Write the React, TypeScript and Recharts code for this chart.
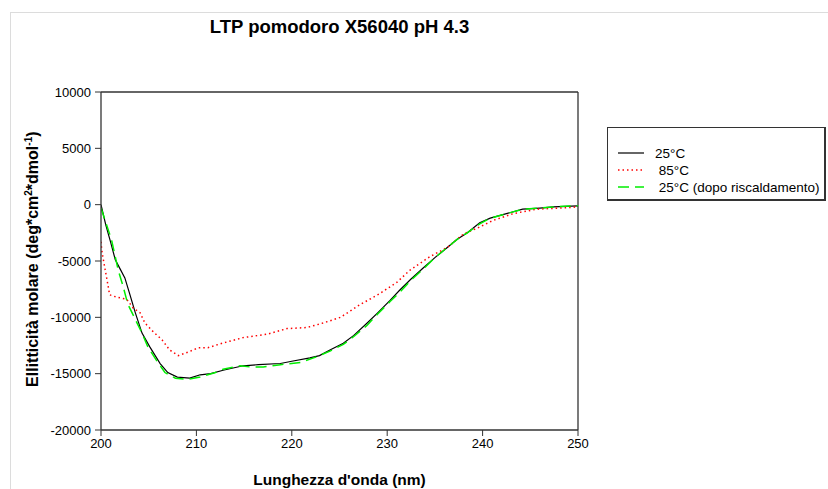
import React from 'react';
import { LineChart, Line, XAxis, YAxis, ReferenceLine } from 'recharts';

const xTicks = [200, 210, 220, 230, 240, 250];
const yTicks = [-20000, -15000, -10000, -5000, 0, 5000, 10000];

const nm25 = [200, 200.5, 201, 201.5, 202, 202.5, 203, 203.6, 204.3, 205.1, 206.2, 207, 208, 209.3, 210.4, 211.5, 212.8, 214.9, 216.5, 218.8, 220, 221.9, 222.9, 224, 225.4, 226.5, 227.9, 229, 230.3, 231.3, 232.5, 233.8, 235, 236.3, 237.3, 238.4, 239.7, 240.8, 242.5, 244.2, 246, 247.4, 250];
const val25 = [0, -1800, -3300, -4900, -5700, -6500, -7900, -9600, -11400, -12600, -14100, -14900, -15300, -15400, -15100, -15000, -14700, -14300, -14200, -14100, -13900, -13600, -13400, -12900, -12300, -11600, -10500, -9600, -8500, -7600, -6600, -5600, -4700, -3800, -3100, -2500, -1600, -1200, -800, -400, -300, -200, -100];

const nm85 = [200, 200.1, 200.4, 200.7, 200.9, 201.6, 202.7, 203.4, 204.1, 204.6, 205.5, 206.4, 207.2, 208.1, 209.1, 210.2, 211.2, 212.7, 214.9, 217.4, 219.5, 221.6, 223.3, 225.1, 227.1, 229.2, 231, 232.4, 234.5, 236.3, 238, 239.4, 241.1, 243.2, 245.7, 248.1, 250];
const val85 = [-3300, -4200, -5600, -7000, -8000, -8200, -8400, -9200, -9600, -10500, -11300, -12000, -12900, -13400, -13100, -12700, -12700, -12300, -11800, -11500, -11000, -10900, -10500, -10000, -8900, -7900, -6900, -5800, -4600, -3800, -2600, -2100, -1400, -800, -400, -300, -200];

const nmAfter = [200, 201.1, 201.8, 202.3, 202.8, 203.6, 204.3, 204.9, 205.8, 206.7, 207.8, 209.1, 210.4, 212, 212.8, 214.6, 215.6, 217, 218.8, 220.9, 222.6, 224, 225.4, 226.5, 227.9, 229, 230.3, 231.3, 232.5, 233.8, 235, 236.3, 237.3, 238.4, 239.7, 240.8, 242.5, 244.2, 246, 247.4, 250];
const valAfter = [-300, -3100, -5800, -7200, -8800, -10200, -11400, -12600, -13800, -14900, -15400, -15500, -15300, -14900, -14600, -14300, -14400, -14400, -14200, -14000, -13500, -13000, -12400, -11700, -10700, -9700, -8600, -7800, -6700, -5700, -4700, -3800, -3100, -2500, -1700, -1200, -800, -400, -300, -200, -100];

const series = [
  { name: '25°C', nm: nm25, val: val25, color: '#000000', dash: undefined as string | undefined, width: 1.2 },
  { name: ' 85°C', nm: nm85, val: val85, color: '#ff0000', dash: '1.5 3', width: 1.5 },
  { name: ' 25°C (dopo riscaldamento)', nm: nmAfter, val: valAfter, color: '#00ee00', dash: '11 6', width: 1.5 },
];

const font = '"Liberation Sans", Arial, sans-serif';

export default function App() {
  const tickStyle = { fontSize: 13, fill: '#000', fontFamily: font };
  return (
    <div style={{ position: 'absolute', left: 0, top: 0, width: 828, height: 489, background: '#fff', fontFamily: font, overflow: 'hidden' }}>
      <div style={{ position: 'absolute', left: 10, top: 12, width: 830, height: 490, borderTop: '1px solid #dcdcdc', borderLeft: '1px solid #dcdcdc' }} />
      <div style={{ position: 'absolute', left: 0, width: 679, top: 16, textAlign: 'center', fontSize: 18.5, fontWeight: 'bold', color: '#000', lineHeight: '22px' }}>
        LTP pomodoro X56040 pH 4.3
      </div>
      <LineChart width={828} height={489} margin={{ top: 92, right: 250, bottom: 0, left: 0 }}>
        <XAxis
          type="number"
          dataKey="x"
          domain={[200, 250]}
          ticks={xTicks}
          allowDataOverflow
          height={59}
          tickSize={6}
          tickMargin={3}
          tick={tickStyle}
          stroke="#333"
          axisLine={{ stroke: '#333', strokeWidth: 1.3 }}
          tickLine={{ stroke: '#333' }}
        />
        <YAxis
          type="number"
          domain={[-20000, 10000]}
          ticks={yTicks}
          allowDataOverflow
          width={101}
          tickSize={6}
          tickMargin={4}
          tick={tickStyle}
          axisLine={{ stroke: '#333', strokeWidth: 1.3 }}
          tickLine={{ stroke: '#333' }}
        />
        <ReferenceLine y={10000} stroke="#333" strokeWidth={1.3} />
        <ReferenceLine x={250} stroke="#333" strokeWidth={1.3} />
        {series.map((s) => (
          <Line
            key={s.name}
            data={s.nm.map((x, i) => ({ x, y: s.val[i] }))}
            dataKey="y"
            type="linear"
            stroke={s.color}
            strokeWidth={s.width}
            strokeDasharray={s.dash}
            dot={false}
            activeDot={false}
            isAnimationActive={false}
          />
        ))}
      </LineChart>
      <div style={{ position: 'absolute', left: 0, width: 679, top: 470, textAlign: 'center', fontSize: 15.5, fontWeight: 'bold', color: '#000', lineHeight: '20px' }}>
        Lunghezza d'onda (nm)
      </div>
      <div style={{ position: 'absolute', left: 31, top: 257, width: 0, height: 0 }}>
        <div style={{ position: 'absolute', left: -200, top: -11, width: 400, textAlign: 'center', transform: 'rotate(-90deg)', fontSize: 16, fontWeight: 'bold', color: '#000', whiteSpace: 'nowrap', lineHeight: '22px' }}>
          Ellitticità molare (deg*cm<sup style={{ fontSize: 10 }}>2</sup>*dmol<sup style={{ fontSize: 10 }}>-1</sup>)
        </div>
      </div>
      <div style={{ position: 'absolute', left: 607, top: 127, width: 216, height: 71, border: '1px solid #333', borderRightWidth: 2, borderBottomWidth: 2, background: '#fff' }}>
        {series.map((s, i) => (
          <div key={s.name} style={{ position: 'absolute', left: 10, top: 17 + i * 17, height: 16, display: 'flex', alignItems: 'center', fontSize: 13.5, color: '#000', whiteSpace: 'pre' }}>
            <svg width={28} height={4} style={{ display: 'block' }}>
              <line x1={0} y1={2} x2={26} y2={2} stroke={s.color} strokeWidth={s.width} strokeDasharray={s.dash} />
            </svg>
            <span style={{ marginLeft: 9 }}>{s.name}</span>
          </div>
        ))}
      </div>
    </div>
  );
}
